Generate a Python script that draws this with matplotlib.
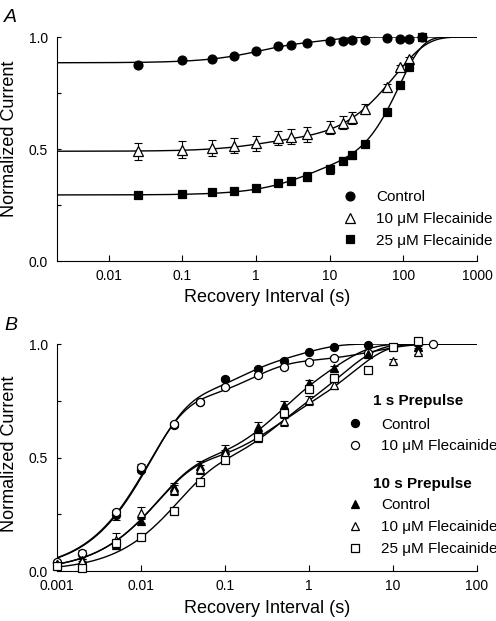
import matplotlib
matplotlib.use("Agg")
import matplotlib.pyplot as plt
import numpy as np
from matplotlib.ticker import FixedLocator, NullLocator, FuncFormatter

plt.rcParams['font.family'] = ['Liberation Sans', 'DejaVu Sans']

# -----------------------------
#  Data: panel A (recovery after long depolarization)
# -----------------------------
a_time = [0.025, 0.1, 0.25, 0.5, 1, 2, 3, 5, 10, 15, 20, 30, 60, 90, 120, 180]
a_ctrl = [0.875, 0.896, 0.902, 0.914, 0.937, 0.960, 0.964, 0.975, 0.984, 0.984,
          0.985, 0.985, 0.994, 0.990, 0.991, 1.0]
a_ctrl_err = [0.005] * 16
a_flec10_time = [0.025, 0.1, 0.25, 0.5, 1, 2, 3, 5, 10, 15, 20, 30, 60, 90, 120]
a_flec10 = [0.490, 0.497, 0.506, 0.515, 0.525, 0.550, 0.555, 0.565, 0.595, 0.618,
            0.637, 0.680, 0.777, 0.865, 0.900]
a_flec10_err = [0.039, 0.038, 0.035, 0.035, 0.033, 0.030, 0.034, 0.034, 0.030, 0.028,
                0.026, 0.022, 0.012, 0.010, 0.010]
a_flec25 = [0.293, 0.299, 0.307, 0.314, 0.327, 0.350, 0.357, 0.376, 0.410, 0.448,
            0.472, 0.522, 0.665, 0.784, 0.868, 1.0]
a_flec25_err = [0.008, 0.008, 0.010, 0.012, 0.010, 0.016, 0.015, 0.020, 0.020, 0.016,
                0.016, 0.010, 0.008, 0.008, 0.008, 0.005]

# fit parameters: amplitudes, time constants (s), exponents
a_fit_ctrl = ([0.07, 0.045], [1.0, 8.0], [1, 1])
a_fit_flec10 = ([0.04, 0.47], [1.0, 77.0], [1, 1])
a_fit_flec25 = ([0.11, 0.595], [4.0, 88.0], [1, 1.36])

# -----------------------------
#  Data: panel B (1 s vs 10 s prepulse)
# -----------------------------
b1_ctrl_time = [0.001, 0.002, 0.005, 0.01, 0.025, 0.05, 0.1, 0.25, 0.5, 1, 2, 5]
b1_ctrl = [0.035, 0.075, 0.245, 0.445, 0.645, 0.745, 0.846, 0.890, 0.926, 0.966, 0.988, 0.997]
b1_ctrl_err = [0.005, 0.005, 0.02, 0.01, 0.01, 0.008, 0.01, 0.008, 0.006, 0.005, 0.004, 0.003]
b1_flec10_time = [0.001, 0.002, 0.005, 0.01, 0.025, 0.05, 0.1, 0.25, 0.5, 1, 2, 5, 30]
b1_flec10 = [0.040, 0.081, 0.258, 0.460, 0.648, 0.746, 0.812, 0.863, 0.897, 0.922, 0.940,
             0.962, 0.998]
b1_flec10_err = [0.005, 0.01, 0.01, 0.01, 0.01, 0.008, 0.008, 0.008, 0.006, 0.006, 0.006,
                 0.005, 0.003]

b10_ctrl_time = [0.001, 0.002, 0.005, 0.01, 0.025, 0.05, 0.1, 0.25, 0.5, 1, 2, 5, 20]
b10_ctrl = [0.030, 0.050, 0.115, 0.222, 0.369, 0.463, 0.534, 0.633, 0.731, 0.827, 0.893,
            0.955, 0.988]
b10_ctrl_err = [0.005, 0.005, 0.01, 0.012, 0.02, 0.02, 0.02, 0.022, 0.02, 0.015, 0.012,
                0.008, 0.005]
b10_flec10_time = [0.001, 0.002, 0.005, 0.01, 0.025, 0.05, 0.1, 0.25, 0.5, 1, 2, 10, 20]
b10_flec10 = [0.030, 0.045, 0.137, 0.255, 0.357, 0.449, 0.520, 0.590, 0.661, 0.753, 0.819,
              0.925, 0.966]
b10_flec10_err = [0.005, 0.008, 0.03, 0.025, 0.02, 0.02, 0.015, 0.02, 0.02, 0.02, 0.015,
                  0.01, 0.008]
b10_flec25_time = [0.001, 0.002, 0.005, 0.01, 0.025, 0.05, 0.1, 0.25, 0.5, 1, 2, 5, 10, 20]
b10_flec25 = [0.020, 0.013, 0.122, 0.151, 0.266, 0.390, 0.490, 0.589, 0.695, 0.800, 0.849,
              0.885, 0.988, 1.015]
b10_flec25_err = [0.005, 0.005, 0.01, 0.01, 0.01, 0.01, 0.012, 0.02, 0.02, 0.015, 0.012,
                  0.01, 0.008, 0.008]

b_fit_1_ctrl = ([0.72, 0.16, 0.12], [0.0125, 0.12, 0.8], [1, 1, 1])
b_fit_1_flec10 = ([0.72, 0.195, 0.085], [0.012, 0.2, 6.0], [1, 1, 1])
b_fit_10_ctrl = ([0.45, 0.27, 0.28], [0.015, 0.35, 2.0], [1, 1, 1])
b_fit_10_flec10 = ([0.45, 0.20, 0.35], [0.015, 0.3, 3.2], [1, 1, 1])
b_fit_10_flec25 = ([0.42, 0.22, 0.36], [0.025, 0.3, 2.5], [1, 1, 1])

a_xticks = [0.01, 0.1, 1, 10, 100, 1000]
b_xticks = [0.001, 0.01, 0.1, 1, 10, 100]


# -----------------------------
#  Helpers
# -----------------------------
def recovery(t, params):
    amps, taus, ns = params
    y = np.ones_like(t)
    for a, tau, n in zip(amps, taus, ns):
        y -= a * np.exp(-(t / tau) ** n)
    return y


def series(ax, t, y, err, marker, face, ms, fit, tfit):
    ax.plot(tfit, recovery(tfit, fit), color='black', lw=1.0, zorder=2)
    ax.errorbar(t, y, yerr=err, fmt='none', ecolor='black', elinewidth=0.8,
                capsize=3, capthick=0.8, zorder=3, clip_on=False)
    h, = ax.plot(t, y, ls='none', marker=marker, ms=ms, mfc=face, mec='black',
                 mew=0.9, zorder=4, clip_on=False)
    return h


def style_axes(ax, xlim, xticks):
    ax.set_xscale('log')
    ax.set_xlim(*xlim)
    ax.set_ylim(0, 1.0)
    ax.spines['top'].set_visible(False)
    ax.spines['right'].set_visible(False)
    ax.spines['left'].set_bounds(0, 1.0)
    ax.xaxis.set_major_locator(FixedLocator(xticks))
    ax.xaxis.set_minor_locator(NullLocator())
    ax.xaxis.set_major_formatter(FuncFormatter(lambda v, p: f"{v:g}"))
    ax.yaxis.set_major_locator(FixedLocator([0, 0.5, 1.0]))
    ax.yaxis.set_minor_locator(FixedLocator([0.25, 0.75]))
    ax.yaxis.set_major_formatter(FuncFormatter(lambda v, p: f"{v:.1f}"))
    ax.tick_params(axis='x', which='both', direction='in', length=4.5, width=0.8,
                   labelsize=10, pad=6)
    ax.tick_params(axis='y', which='both', direction='in', length=3, width=0.8,
                   labelsize=10, pad=6.5)
    ax.set_xlabel("Recovery Interval (s)", fontsize=13)
    ax.set_ylabel("Normalized Current", fontsize=13)


fig = plt.figure(figsize=(4.96, 6.21), dpi=100)
axA = fig.add_axes([0.1149, 0.5797, 0.8468, 0.3607])
axB = fig.add_axes([0.1149, 0.0805, 0.8468, 0.3655])

# -----------------------------
#  Panel A
# -----------------------------
tA = np.logspace(np.log10(0.002), 3, 400)
hA1 = series(axA, a_time, a_ctrl, a_ctrl_err, 'o', 'black', 6.4, a_fit_ctrl, tA)
hA2 = series(axA, a_flec10_time, a_flec10, a_flec10_err, '^', 'white', 6.6, a_fit_flec10, tA)
hA3 = series(axA, a_time, a_flec25, a_flec25_err, 's', 'black', 6.0, a_fit_flec25, tA)
style_axes(axA, (0.002, 1000), a_xticks)
axA.xaxis.set_label_coords(0.5, -0.125)
axA.yaxis.set_label_coords(-0.093, 0.547)
axA.legend([hA1, hA2, hA3], ["Control", "10 μM Flecainide", "25 μM Flecainide"],
           loc='center left', bbox_to_anchor=(0.6795, 0.188), frameon=False,
           fontsize=11, handlelength=1.0, handletextpad=1.2, labelspacing=0.5,
           borderpad=0, borderaxespad=0, numpoints=1)

# -----------------------------
#  Panel B
# -----------------------------
tB = np.logspace(-3, 2, 400)
hB1 = series(axB, b1_ctrl_time, b1_ctrl, b1_ctrl_err, 'o', 'black', 5.8, b_fit_1_ctrl, tB)
hB2 = series(axB, b1_flec10_time, b1_flec10, b1_flec10_err, 'o', 'white', 5.8, b_fit_1_flec10, tB)
hB3 = series(axB, b10_ctrl_time, b10_ctrl, b10_ctrl_err, '^', 'black', 5.8, b_fit_10_ctrl, tB)
hB4 = series(axB, b10_flec10_time, b10_flec10, b10_flec10_err, '^', 'white', 5.8, b_fit_10_flec10, tB)
hB5 = series(axB, b10_flec25_time, b10_flec25, b10_flec25_err, 's', 'white', 5.2, b_fit_10_flec25, tB)
style_axes(axB, (0.001, 100), b_xticks)
axB.xaxis.set_label_coords(0.5, -0.127)
axB.yaxis.set_label_coords(-0.093, 0.518)

leg_opts = dict(loc='center left', frameon=False, fontsize=11, handlelength=1.0,
                handletextpad=1.2, labelspacing=0.52, borderpad=0, borderaxespad=0,
                numpoints=1)
leg1 = axB.legend([hB1, hB2], ["Control", "10 μM Flecainide"],
                  bbox_to_anchor=(0.691, 0.597), **leg_opts)
axB.add_artist(leg1)
axB.legend([hB3, hB4, hB5], ["Control", "10 μM Flecainide", "25 μM Flecainide"],
           bbox_to_anchor=(0.691, 0.194), **leg_opts)
axB.text(0.752, 0.749, "1 s Prepulse", transform=axB.transAxes, fontsize=11,
         fontweight='bold', va='center', ha='left')
axB.text(0.752, 0.383, "10 s Prepulse", transform=axB.transAxes, fontsize=11,
         fontweight='bold', va='center', ha='left')

# panel letters
fig.text(4 / 496, 1 - 22 / 621, "A", fontsize=14, fontstyle='italic', va='baseline')
fig.text(4 / 496, 1 - 330 / 621, "B", fontsize=14, fontstyle='italic', va='baseline')

fig.savefig("out.png", dpi=100)
